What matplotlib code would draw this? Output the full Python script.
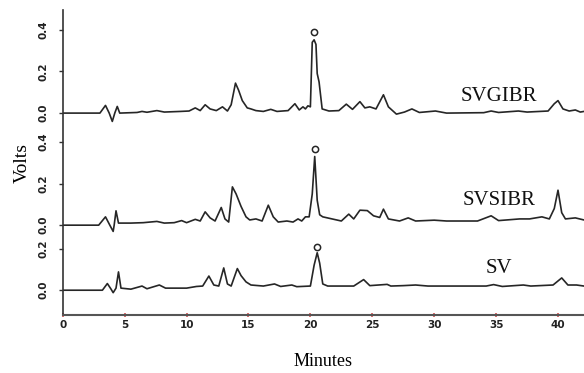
import matplotlib
matplotlib.use("Agg")
import matplotlib.pyplot as plt

# ---- data (minutes, volts relative to each trace's own baseline) ----
svgibr_t = [0, 3.0, 3.45, 3.75, 4.0, 4.2, 4.4, 4.6, 6.0, 6.4, 6.8, 7.6, 8.2, 9.5, 10.2, 10.7,
            11.1, 11.5, 11.9, 12.4, 12.9, 13.3, 13.6, 13.95, 14.2, 14.5, 14.9, 15.2, 15.6, 16.2,
            16.8, 17.3, 18.2, 18.75, 19.1, 19.4, 19.6, 19.8, 20.0, 20.15, 20.3, 20.45, 20.55,
            20.7, 20.95, 21.5, 22.3, 22.9, 23.4, 24.0, 24.4, 24.8, 25.3, 25.9, 26.3, 26.95,
            27.6, 28.2, 28.8, 30.1, 31.0, 34.0, 34.6, 35.2, 36.8, 37.5, 39.2, 39.7, 40.0, 40.4,
            40.9, 41.4, 41.8, 42.1]
svgibr_v = [0, 0, 0.037, 0.0, -0.04, 0.0, 0.032, 0.0, 0.003, 0.008, 0.004, 0.012, 0.005, 0.008,
            0.01, 0.025, 0.012, 0.04, 0.02, 0.012, 0.03, 0.01, 0.04, 0.144, 0.11, 0.06, 0.025,
            0.02, 0.012, 0.008, 0.018, 0.008, 0.012, 0.045, 0.015, 0.03, 0.02, 0.035, 0.03, 0.34,
            0.352, 0.33, 0.19, 0.15, 0.02, 0.01, 0.012, 0.043, 0.018, 0.055, 0.025, 0.03, 0.02,
            0.088, 0.03, -0.005, 0.005, 0.02, 0.003, 0.01, 0.0, 0.002, 0.01, 0.003, 0.01, 0.005,
            0.01, 0.045, 0.06, 0.02, 0.01, 0.015, 0.005, 0.008]

svsibr_t = [0, 2.9, 3.45, 3.8, 4.07, 4.15, 4.3, 4.5, 5.5, 6.5, 7.6, 8.2, 9.0, 9.6, 10.0, 10.7,
            11.1, 11.5, 11.9, 12.3, 12.8, 13.1, 13.4, 13.7, 14.0, 14.4, 14.8, 15.1, 15.6, 16.1,
            16.6, 17.0, 17.4, 18.1, 18.6, 19.0, 19.3, 19.6, 19.9, 20.15, 20.35, 20.55, 20.75,
            21.0, 22.5, 23.1, 23.5, 24.0, 24.6, 25.1, 25.6, 25.9, 26.3, 27.2, 27.9, 28.5, 30.0,
            31.0, 33.5, 34.6, 35.2, 36.9, 37.7, 38.7, 39.3, 39.7, 40.0, 40.3, 40.6, 41.4, 42.1]
svsibr_v = [0, 0, 0.04, 0.0, -0.03, 0.0, 0.069, 0.01, 0.01, 0.012, 0.018, 0.01, 0.012, 0.022,
            0.012, 0.028, 0.02, 0.064, 0.035, 0.02, 0.085, 0.03, 0.015, 0.184, 0.15, 0.09, 0.04,
            0.025, 0.03, 0.02, 0.096, 0.04, 0.015, 0.02, 0.015, 0.03, 0.02, 0.04, 0.04, 0.15,
            0.33, 0.12, 0.05, 0.04, 0.02, 0.053, 0.03, 0.072, 0.07, 0.045, 0.037, 0.077, 0.03,
            0.02, 0.035, 0.02, 0.024, 0.02, 0.02, 0.045, 0.022, 0.03, 0.03, 0.04, 0.03, 0.08,
            0.168, 0.06, 0.03, 0.035, 0.025]

sv_t = [0, 3.2, 3.6, 3.9, 4.07, 4.3, 4.5, 4.7, 5.5, 6.4, 6.8, 7.8, 8.3, 10.0, 10.8, 11.3, 11.8,
        12.2, 12.6, 13.0, 13.3, 13.6, 14.1, 14.4, 14.8, 15.2, 16.2, 17.1, 17.6, 18.5, 18.9,
        20.0, 20.3, 20.55, 20.75, 21.0, 21.4, 23.5, 24.3, 24.8, 26.2, 26.5, 27.5, 28.5, 29.5,
        30.5, 34.2, 34.8, 35.5, 37.2, 37.8, 39.6, 40.3, 40.8, 41.5, 42.1]
sv_v = [0, 0, 0.032, 0.005, -0.012, 0.01, 0.088, 0.01, 0.005, 0.02, 0.007, 0.025, 0.01, 0.01,
        0.018, 0.02, 0.068, 0.025, 0.02, 0.107, 0.03, 0.02, 0.104, 0.07, 0.04, 0.025, 0.02,
        0.03, 0.018, 0.025, 0.017, 0.02, 0.12, 0.18, 0.13, 0.03, 0.02, 0.02, 0.051, 0.022,
        0.028, 0.02, 0.022, 0.025, 0.02, 0.02, 0.02, 0.027, 0.018, 0.025, 0.02, 0.025, 0.059,
        0.025, 0.025, 0.02]

trace_names = ["SVGIBR", "SVSIBR", "SV"]
trace_offsets = [0.851, 0.3125, 0.0]
marker_t = [20.3, 20.35, 20.55]
marker_v = [0.39, 0.364, 0.208]
tick_values = [[0.0, 0.2, 0.4], [0.0, 0.2, 0.4], [0.0, 0.2]]
x_ticks = [0, 5, 10, 15, 20, 25, 30, 35, 40]

fig = plt.figure(figsize=(5.84, 3.73), dpi=100)
ax = fig.add_axes([0.1075, 0.155, 0.8925, 0.818])

line_col = "#262626"
traces = [(svgibr_t, svgibr_v), (svsibr_t, svsibr_v), (sv_t, sv_v)]
for (t, v), off in zip(traces, trace_offsets):
    ax.plot(t, [vv + off for vv in v], color=line_col, lw=1.2, solid_joinstyle="round")

for mt, mv, off in zip(marker_t, marker_v, trace_offsets):
    ax.plot([mt], [mv + off], marker="o", ms=4.5, mfc="white", mec=line_col, mew=1.1)

label_y = [0.929, 0.433, 0.106]
for name, ly in zip(trace_names, label_y):
    ax.text(35.2, ly, name, family="Liberation Serif", fontsize=15, ha="center",
            va="center", color="#111111")

ax.set_xlim(0, 42.1)
ax.set_ylim(-0.120, 1.346)

yt, yl = [], []
for vals, off in zip(tick_values, trace_offsets):
    for v in vals:
        yt.append(v + off)
        yl.append(f"{v:.1f}")
ax.set_yticks(yt)
ax.set_yticklabels(yl, rotation=90, va="center", fontsize=7.5, fontweight="bold",
                   color="#222222")
ax.tick_params(axis="y", length=3, width=1, pad=7, color="#333333")

ax.set_xticks(x_ticks)
ax.set_xticklabels([str(x) for x in x_ticks], fontsize=7.5, fontweight="bold", color="#222222")
ax.tick_params(axis="x", length=2.5, width=1.2, pad=2, color="#d05050", direction="inout")

for s in ["top", "right"]:
    ax.spines[s].set_visible(False)
ax.spines["left"].set_color("#333333")
ax.spines["bottom"].set_color("#555555")
ax.spines["left"].set_linewidth(1.2)
ax.spines["bottom"].set_linewidth(1.5)

ax.set_xlabel("Minutes", family="Liberation Serif", fontsize=13, labelpad=17)
ax.set_ylabel("Volts", family="Liberation Serif", fontsize=14, labelpad=6)

fig.savefig("out.png", dpi=100)
